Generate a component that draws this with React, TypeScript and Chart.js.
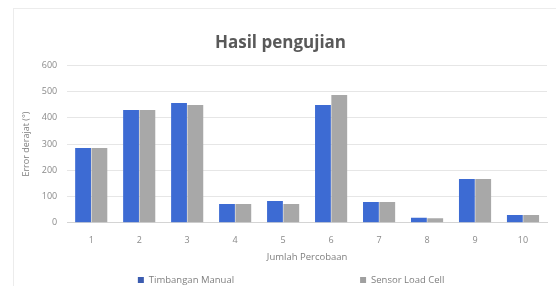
import React, { useEffect, useRef } from "react";
import { Chart, registerables } from "chart.js";

Chart.register(...registerables);

const categories = ["1", "2", "3", "4", "5", "6", "7", "8", "9", "10"];
const manualValues = [285, 430, 457, 72, 83, 449, 79, 19, 167, 30];
const sensorValues = [285, 430, 449, 72, 72, 487, 79, 17, 167, 30];
const seriesNames = ["Timbangan Manual", "Sensor Load Cell"];
const yTicks = [0, 100, 200, 300, 400, 500, 600];

const BLUE = "#3d6bd3";
const GRAY = "#a8a8a8";
const FONT = "'Open Sans', 'DejaVu Sans', sans-serif";

const legendPlugin = {
  id: "customLegend",
  afterDraw(chart: any) {
    const { ctx, chartArea } = chart;
    ctx.save();
    ctx.font = `9.5px ${FONT}`;
    ctx.textBaseline = "middle";
    const box = 6;
    const gapBoxText = 5;
    const gapItems = 126;
    const widths = chart.data.datasets.map(
      (d: any) => box + gapBoxText + ctx.measureText(d.label).width
    );
    const total = widths[0] + gapItems + widths[1];
    const center = (chartArea.left + chartArea.right) / 2 - 16;
    let x = center - total / 2;
    const y = 280;
    chart.data.datasets.forEach((d: any, i: number) => {
      ctx.fillStyle = d.legendColor;
      ctx.fillRect(x, y - box / 2, box, box);
      ctx.fillStyle = "#7f7f7f";
      ctx.textAlign = "left";
      ctx.fillText(d.label, x + box + gapBoxText, y);
      x += widths[i] + gapItems;
    });
    ctx.restore();
  },
};

export default function App() {
  const canvasRef = useRef<HTMLCanvasElement | null>(null);

  useEffect(() => {
    if (!canvasRef.current) return;
    const chart = new Chart(canvasRef.current, {
      type: "bar",
      data: {
        labels: categories,
        datasets: [
          {
            label: seriesNames[0],
            data: manualValues,
            backgroundColor: BLUE,
            legendColor: "#3b5cb0",
            categoryPercentage: 0.68,
            barPercentage: 0.97,
          } as any,
          {
            label: seriesNames[1],
            data: sensorValues,
            backgroundColor: GRAY,
            legendColor: "#a0a0a0",
            categoryPercentage: 0.68,
            barPercentage: 0.97,
          } as any,
        ],
      },
      options: {
        animation: false,
        responsive: false,
        layout: { padding: { left: 14, right: 9, top: 0, bottom: 23 } },
        plugins: {
          legend: { display: false },
          tooltip: { enabled: false },
          title: {
            display: true,
            text: "Hasil pengujian",
            color: "#595959",
            font: { family: FONT, size: 17, weight: "bold" },
            padding: { top: 33, bottom: 12 },
          },
        },
        scales: {
          x: {
            grid: { display: false, drawTicks: false },
            border: { display: true, color: "#d4d4d4" },
            ticks: {
              color: "#8a8a8a",
              font: { family: FONT, size: 9 },
              padding: 12,
            },
            title: {
              display: true,
              text: "Jumlah Percobaan",
              color: "#7f7f7f",
              font: { family: FONT, size: 9.5 },
              padding: { top: -6, bottom: 0 },
            },
          },
          y: {
            min: 0,
            max: 600,
            afterBuildTicks(scale: any) {
              scale.ticks = yTicks.map((v) => ({ value: v }));
            },
            grid: { color: "#e6e6e6", drawTicks: false },
            border: { display: false },
            ticks: {
              color: "#8a8a8a",
              font: { family: FONT, size: 9 },
              padding: 10,
            },
            title: {
              display: true,
              text: "Error derajat (°)",
              color: "#7f7f7f",
              font: { family: FONT, size: 9 },
              padding: { top: 7, bottom: 0 },
            },
          },
        },
      },
      plugins: [legendPlugin],
    });
    return () => chart.destroy();
  }, []);

  return (
    <div
      style={{
        position: "fixed",
        left: 0,
        top: 0,
        width: 556,
        height: 286,
        overflow: "hidden",
        background: "#ffffff",
      }}
    >
      <div
        style={{
          position: "absolute",
          left: 13,
          top: 8,
          width: 560,
          height: 300,
          border: "1px solid #ececec",
          boxSizing: "border-box",
        }}
      />
      <canvas
        ref={canvasRef}
        width={556}
        height={286}
        style={{ position: "absolute", left: 0, top: 0 }}
      />
    </div>
  );
}
